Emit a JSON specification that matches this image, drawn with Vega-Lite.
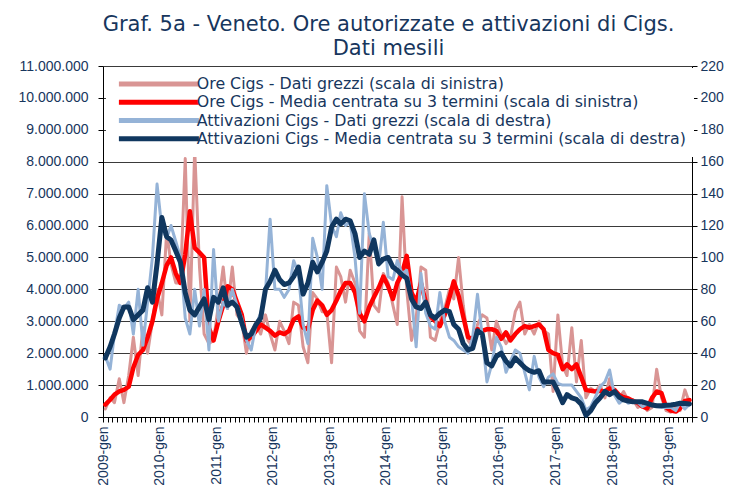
{
  "$schema": "https://vega.github.io/schema/vega-lite/v6.json",
  "width": 589,
  "height": 351,
  "autosize": {"type": "none"},
  "padding": {"left": 103, "top": 66, "right": 44, "bottom": 71},
  "background": "white",
  "config": {
    "view": {"stroke": null},
    "locale": {"number": {"decimal": ",", "thousands": ".", "grouping": [3], "currency": ["€", ""]}},
    "axis": {"labelFont": "Liberation Sans", "labelFontSize": 14, "labelColor": "#17365D", "domainColor": "#000000", "tickColor": "#000000", "domainWidth": 1, "tickWidth": 1}
  },
  "title": {
    "text": ["Graf. 5a - Veneto. Ore autorizzate e attivazioni di Cigs.", "Dati mesili"],
    "font": "DejaVu Sans", "fontSize": 21, "fontWeight": "normal", "color": "#17365D",
    "anchor": "middle", "frame": "group", "lineHeight": 24, "offset": 4, "dx": -9, "dy": 4
  },
  "data": {"values": [
    {"d":"2009-01-16","o":250000,"om":390000,"a":38,"am":37},
    {"d":"2009-02-16","o":600000,"om":540000,"a":30,"am":44},
    {"d":"2009-03-16","o":450000,"om":700000,"a":52,"am":52},
    {"d":"2009-04-16","o":1200000,"om":800000,"a":70,"am":62},
    {"d":"2009-05-16","o":450000,"om":850000,"a":68,"am":69},
    {"d":"2009-06-16","o":1300000,"om":950000,"a":72,"am":69},
    {"d":"2009-07-16","o":2500000,"om":1550000,"a":52,"am":61},
    {"d":"2009-08-16","o":1300000,"om":1950000,"a":80,"am":64},
    {"d":"2009-09-16","o":2800000,"om":2100000,"a":45,"am":67},
    {"d":"2009-10-16","o":2000000,"om":2500000,"a":72,"am":81},
    {"d":"2009-11-16","o":3000000,"om":3000000,"a":100,"am":72},
    {"d":"2009-12-16","o":4000000,"om":3700000,"a":146,"am":96},
    {"d":"2010-01-16","o":3200000,"om":4200000,"a":118,"am":125},
    {"d":"2010-02-16","o":5800000,"om":4750000,"a":112,"am":113},
    {"d":"2010-03-16","o":4800000,"om":5000000,"a":120,"am":111},
    {"d":"2010-04-16","o":4200000,"om":4500000,"a":110,"am":104},
    {"d":"2010-05-16","o":4200000,"om":4200000,"a":100,"am":97},
    {"d":"2010-06-16","o":8100000,"om":5100000,"a":62,"am":78},
    {"d":"2010-07-16","o":3000000,"om":6450000,"a":52,"am":67},
    {"d":"2010-08-16","o":8400000,"om":5300000,"a":80,"am":64},
    {"d":"2010-09-16","o":4700000,"om":5150000,"a":57,"am":69},
    {"d":"2010-10-16","o":2600000,"om":5000000,"a":80,"am":74},
    {"d":"2010-11-16","o":2300000,"om":2800000,"a":42,"am":61},
    {"d":"2010-12-16","o":2400000,"om":2400000,"a":105,"am":75},
    {"d":"2011-01-16","o":3500000,"om":3000000,"a":60,"am":72},
    {"d":"2011-02-16","o":4700000,"om":3500000,"a":72,"am":81},
    {"d":"2011-03-16","o":3400000,"om":4100000,"a":68,"am":70},
    {"d":"2011-04-16","o":4700000,"om":4000000,"a":80,"am":72},
    {"d":"2011-05-16","o":3200000,"om":3600000,"a":70,"am":69},
    {"d":"2011-06-16","o":3000000,"om":3200000,"a":62,"am":59},
    {"d":"2011-07-16","o":2000000,"om":2400000,"a":48,"am":50},
    {"d":"2011-08-16","o":2700000,"om":2500000,"a":42,"am":52},
    {"d":"2011-09-16","o":2900000,"om":2700000,"a":58,"am":58},
    {"d":"2011-10-16","o":2600000,"om":2900000,"a":65,"am":62},
    {"d":"2011-11-16","o":3200000,"om":2800000,"a":78,"am":80},
    {"d":"2011-12-16","o":2600000,"om":2700000,"a":124,"am":85},
    {"d":"2012-01-16","o":2100000,"om":2550000,"a":80,"am":92},
    {"d":"2012-02-16","o":3000000,"om":2650000,"a":80,"am":86},
    {"d":"2012-03-16","o":2700000,"om":2600000,"a":75,"am":83},
    {"d":"2012-04-16","o":2300000,"om":2700000,"a":80,"am":84},
    {"d":"2012-05-16","o":3600000,"om":3050000,"a":98,"am":88},
    {"d":"2012-06-16","o":3500000,"om":3150000,"a":90,"am":94},
    {"d":"2012-07-16","o":2200000,"om":2800000,"a":58,"am":77},
    {"d":"2012-08-16","o":1700000,"om":2750000,"a":46,"am":84},
    {"d":"2012-09-16","o":3900000,"om":3350000,"a":112,"am":97},
    {"d":"2012-10-16","o":3700000,"om":3650000,"a":100,"am":91},
    {"d":"2012-11-16","o":3300000,"om":3500000,"a":80,"am":97},
    {"d":"2012-12-16","o":3300000,"om":3200000,"a":145,"am":104},
    {"d":"2013-01-16","o":1700000,"om":3350000,"a":120,"am":119},
    {"d":"2013-02-16","o":4700000,"om":3650000,"a":113,"am":124},
    {"d":"2013-03-16","o":4400000,"om":3950000,"a":128,"am":121},
    {"d":"2013-04-16","o":3600000,"om":4200000,"a":120,"am":124},
    {"d":"2013-05-16","o":4600000,"om":4200000,"a":122,"am":123},
    {"d":"2013-06-16","o":4200000,"om":3900000,"a":100,"am":115},
    {"d":"2013-07-16","o":2700000,"om":3250000,"a":65,"am":100},
    {"d":"2013-08-16","o":2500000,"om":3000000,"a":140,"am":104},
    {"d":"2013-09-16","o":5750000,"om":3450000,"a":115,"am":102},
    {"d":"2013-10-16","o":3500000,"om":3750000,"a":106,"am":111},
    {"d":"2013-11-16","o":3300000,"om":4050000,"a":95,"am":96},
    {"d":"2013-12-16","o":4500000,"om":4400000,"a":122,"am":99},
    {"d":"2014-01-16","o":4200000,"om":4100000,"a":88,"am":100},
    {"d":"2014-02-16","o":3500000,"om":3700000,"a":86,"am":94},
    {"d":"2014-03-16","o":2900000,"om":4200000,"a":98,"am":92},
    {"d":"2014-04-16","o":6900000,"om":4500000,"a":90,"am":89},
    {"d":"2014-05-16","o":4000000,"om":5050000,"a":92,"am":87},
    {"d":"2014-06-16","o":2400000,"om":3900000,"a":75,"am":74},
    {"d":"2014-07-16","o":3100000,"om":3600000,"a":44,"am":69},
    {"d":"2014-08-16","o":4700000,"om":4200000,"a":90,"am":68},
    {"d":"2014-09-16","o":4600000,"om":3600000,"a":65,"am":72},
    {"d":"2014-10-16","o":2500000,"om":3150000,"a":57,"am":64},
    {"d":"2014-11-16","o":2400000,"om":3000000,"a":55,"am":62},
    {"d":"2014-12-16","o":3000000,"om":2850000,"a":78,"am":65},
    {"d":"2015-01-16","o":3400000,"om":3200000,"a":60,"am":67},
    {"d":"2015-02-16","o":4000000,"om":3750000,"a":50,"am":66},
    {"d":"2015-03-16","o":3700000,"om":4250000,"a":48,"am":58},
    {"d":"2015-04-16","o":5000000,"om":3800000,"a":44,"am":55},
    {"d":"2015-05-16","o":3500000,"om":3150000,"a":42,"am":46},
    {"d":"2015-06-16","o":2400000,"om":2500000,"a":40,"am":42},
    {"d":"2015-07-16","o":2200000,"om":2450000,"a":50,"am":43},
    {"d":"2015-08-16","o":2900000,"om":2750000,"a":77,"am":54},
    {"d":"2015-09-16","o":3200000,"om":2700000,"a":50,"am":52},
    {"d":"2015-10-16","o":3100000,"om":2750000,"a":22,"am":34},
    {"d":"2015-11-16","o":2100000,"om":2750000,"a":33,"am":32},
    {"d":"2015-12-16","o":3000000,"om":2700000,"a":50,"am":38},
    {"d":"2016-01-16","o":2600000,"om":2450000,"a":44,"am":40},
    {"d":"2016-02-16","o":2300000,"om":2650000,"a":28,"am":35},
    {"d":"2016-03-16","o":2500000,"om":2400000,"a":35,"am":32},
    {"d":"2016-04-16","o":3300000,"om":2600000,"a":42,"am":37},
    {"d":"2016-05-16","o":3600000,"om":2750000,"a":40,"am":34},
    {"d":"2016-06-16","o":2600000,"om":2850000,"a":28,"am":31},
    {"d":"2016-07-16","o":2900000,"om":2800000,"a":17,"am":29},
    {"d":"2016-08-16","o":2600000,"om":2850000,"a":38,"am":28},
    {"d":"2016-09-16","o":3000000,"om":2900000,"a":25,"am":29},
    {"d":"2016-10-16","o":2700000,"om":2750000,"a":19,"am":22},
    {"d":"2016-11-16","o":2600000,"om":2100000,"a":25,"am":22},
    {"d":"2016-12-16","o":800000,"om":2000000,"a":27,"am":22},
    {"d":"2017-01-16","o":3200000,"om":1950000,"a":21,"am":16},
    {"d":"2017-02-16","o":1600000,"om":1500000,"a":20,"am":9},
    {"d":"2017-03-16","o":1300000,"om":1650000,"a":20,"am":14},
    {"d":"2017-04-16","o":2800000,"om":1500000,"a":20,"am":12},
    {"d":"2017-05-16","o":1100000,"om":1650000,"a":16,"am":11},
    {"d":"2017-06-16","o":2400000,"om":1250000,"a":12,"am":8},
    {"d":"2017-07-16","o":600000,"om":850000,"a":4.4,"am":1},
    {"d":"2017-08-16","o":900000,"om":820000,"a":6.5,"am":4},
    {"d":"2017-09-16","o":800000,"om":800000,"a":12.7,"am":9},
    {"d":"2017-10-16","o":1000000,"om":820000,"a":19,"am":12},
    {"d":"2017-11-16","o":600000,"om":800000,"a":22,"am":16},
    {"d":"2017-12-16","o":1200000,"om":900000,"a":29.5,"am":14},
    {"d":"2018-01-16","o":700000,"om":850000,"a":13.8,"am":16},
    {"d":"2018-02-16","o":600000,"om":690000,"a":8.6,"am":12.5},
    {"d":"2018-03-16","o":800000,"om":620000,"a":11,"am":10.7},
    {"d":"2018-04-16","o":500000,"om":580000,"a":8.6,"am":10},
    {"d":"2018-05-16","o":550000,"om":500000,"a":10,"am":9.6},
    {"d":"2018-06-16","o":300000,"om":450000,"a":9,"am":9.6},
    {"d":"2018-07-16","o":400000,"om":330000,"a":6.5,"am":9.5},
    {"d":"2018-08-16","o":200000,"om":270000,"a":8,"am":8.5},
    {"d":"2018-09-16","o":300000,"om":600000,"a":7.5,"am":7.5},
    {"d":"2018-10-16","o":1500000,"om":800000,"a":6.5,"am":7},
    {"d":"2018-11-16","o":600000,"om":750000,"a":6,"am":7},
    {"d":"2018-12-16","o":200000,"om":300000,"a":6,"am":7.3},
    {"d":"2019-01-16","o":150000,"om":200000,"a":6,"am":7.5},
    {"d":"2019-02-16","o":300000,"om":170000,"a":4,"am":8},
    {"d":"2019-03-16","o":200000,"om":270000,"a":9,"am":8.6},
    {"d":"2019-04-16","o":850000,"om":500000,"a":5,"am":8.4},
    {"d":"2019-05-16","o":450000,"om":530000,"a":8,"am":8.2}
  ]},
  "layer": [
    {
      "layer": [
        {
          "mark": {"type": "line", "strokeWidth": 3, "strokeJoin": "round", "strokeCap": "round"},
          "encoding": {
            "x": {"field": "d", "type": "temporal", "title": null,
              "scale": {"type": "utc", "domain": [{"year": 2009, "month": 1, "date": 1, "utc": true}, {"year": 2019, "month": 6, "date": 1, "utc": true}]},
              "axis": {"tickCount": {"interval": "month", "step": 1}, "labelExpr": "utcmonth(datum.value) == 0 ? utcyear(datum.value) + '-gen' : ''", "labelAngle": 270, "labelAlign": "right", "labelBaseline": "middle", "labelOverlap": false, "labelPadding": 4, "tickSize": 5, "grid": false, "labelBound": false, "labelFlush": false}},
            "y": {"field": "o", "type": "quantitative", "title": null,
              "scale": {"domain": [0, 11000000], "nice": false, "zero": true},
              "axis": {"orient": "left", "values": [0, 1000000, 2000000, 3000000, 4000000, 5000000, 6000000, 7000000, 8000000, 9000000, 10000000, 11000000], "format": ",d", "labelOverlap": false, "labelBound": false, "labelFlush": false, "grid": true, "gridColor": "#3a3a3a", "gridWidth": 1, "tickSize": 5, "labelPadding": 10}},
            "color": {"datum": "Ore Cigs - Dati grezzi (scala di sinistra)",
              "scale": {"domain": ["Ore Cigs - Dati grezzi (scala di sinistra)", "Ore Cigs - Media centrata su 3 termini (scala di sinistra)", "Attivazioni Cigs - Dati grezzi (scala di destra)", "Attivazioni Cigs - Media centrata su 3 termini (scala di destra)"], "range": ["#D99594", "#FF0000", "#95B3D7", "#10375F"]},
              "legend": {"orient": "none", "legendX": 3, "legendY": 2, "title": null, "fillColor": "white", "padding": 8, "symbolType": "M-8,0L8,0", "symbolSize": 100, "symbolStrokeWidth": 5, "symbolOffset": 37, "labelOffset": 30, "labelFont": "DejaVu Sans", "labelFontSize": 15.8, "labelColor": "#17365D", "rowPadding": -2.7, "labelLimit": 700}}
          }
        },
        {
          "mark": {"type": "line", "strokeWidth": 4.5, "strokeJoin": "round", "strokeCap": "round"},
          "encoding": {
            "x": {"field": "d", "type": "temporal", "title": null},
            "y": {"field": "om", "type": "quantitative", "title": null,
              "axis": {"orient": "left", "values": [0, 1000000, 2000000, 3000000, 4000000, 5000000, 6000000, 7000000, 8000000, 9000000, 10000000, 11000000], "format": ",d", "labelOverlap": false, "labelBound": false, "labelFlush": false, "grid": true, "gridColor": "#3a3a3a", "gridWidth": 1, "tickSize": 5, "labelPadding": 10}},
            "color": {"datum": "Ore Cigs - Media centrata su 3 termini (scala di sinistra)"}
          }
        }
      ]
    },
    {
      "layer": [
        {
          "mark": {"type": "line", "strokeWidth": 3, "strokeJoin": "round", "strokeCap": "round"},
          "encoding": {
            "x": {"field": "d", "type": "temporal", "title": null},
            "y": {"field": "a", "type": "quantitative", "title": null,
              "scale": {"domain": [0, 220], "nice": false, "zero": true},
              "axis": {"orient": "right", "values": [0, 20, 40, 60, 80, 100, 120, 140, 160, 180, 200, 220], "labelOverlap": false, "labelBound": false, "labelFlush": false, "grid": false, "tickSize": 5, "labelPadding": 3}},
            "color": {"datum": "Attivazioni Cigs - Dati grezzi (scala di destra)"}
          }
        },
        {
          "mark": {"type": "line", "strokeWidth": 5, "strokeJoin": "round", "strokeCap": "round"},
          "encoding": {
            "x": {"field": "d", "type": "temporal", "title": null},
            "y": {"field": "am", "type": "quantitative", "title": null,
              "axis": {"orient": "right", "values": [0, 20, 40, 60, 80, 100, 120, 140, 160, 180, 200, 220], "labelOverlap": false, "labelBound": false, "labelFlush": false, "grid": false, "tickSize": 5, "labelPadding": 3}},
            "color": {"datum": "Attivazioni Cigs - Media centrata su 3 termini (scala di destra)"}
          }
        }
      ]
    }
  ],
  "resolve": {"scale": {"y": "independent"}}
}
